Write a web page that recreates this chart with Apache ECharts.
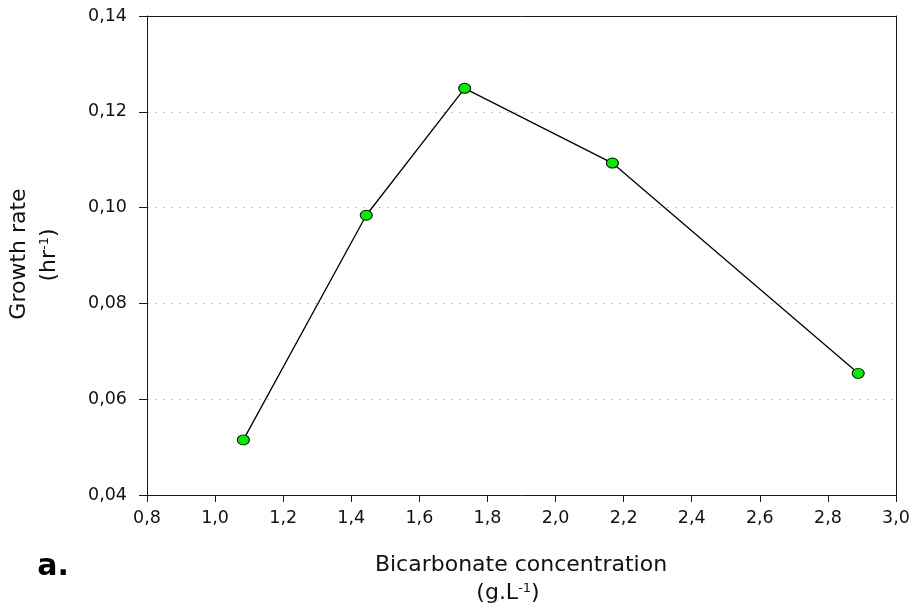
<!DOCTYPE html>
<html>
<head>
<meta charset="utf-8">
<title>Growth rate vs bicarbonate concentration</title>
<script src="https://cdn.jsdelivr.net/npm/echarts@6/dist/echarts.min.js"></script>
<style>
  html, body { margin: 0; padding: 0; background: #ffffff; }
  #chart { width: 913px; height: 610px; }
</style>
</head>
<body>
<div id="chart"></div>
<script>
// Bicarbonate concentration (g/L) and measured growth rate (1/hr)
const bicarbonate = [1.083, 1.444, 1.733, 2.167, 2.889];
const growthRate = [0.0515, 0.0984, 0.1249, 0.1093, 0.0654];

// Axis ranges and tick spacing
const xRange = [0.8, 3.0, 0.2];
const yRange = [0.04, 0.14, 0.02];

const FONT = 'DejaVu Sans';
const INK = '#111';
const commaDecimal = (v, digits) => v.toFixed(digits).replace('.', ',');

// Plain axis used only to close the frame on the top and right sides
const frameAxis = (extra, range) => Object.assign({
  type: 'value',
  min: range[0], max: range[1], interval: range[2],
  axisLine: { show: true, onZero: false, lineStyle: { color: '#1a1a1a', width: 1 } },
  axisTick: { show: false },
  axisLabel: { show: false },
  splitLine: { show: false }
}, extra);

const chart = echarts.init(document.getElementById('chart'), null, { renderer: 'canvas' });

chart.setOption({
  backgroundColor: '#ffffff',
  animation: false,
  grid: { left: 147, right: 17, top: 16, bottom: 115, containLabel: false },
  xAxis: [
    {
      type: 'value',
      min: xRange[0], max: xRange[1], interval: xRange[2],
      axisLine: { show: true, onZero: false, lineStyle: { color: '#1a1a1a', width: 1 } },
      axisTick: { show: true, inside: false, length: 7, lineStyle: { color: '#1a1a1a' } },
      axisLabel: {
        margin: 14, color: INK, fontFamily: FONT, fontSize: 17.5,
        formatter: v => commaDecimal(v, 1)
      },
      splitLine: { show: false }
    },
    frameAxis({ position: 'top' }, xRange)
  ],
  yAxis: [
    {
      type: 'value',
      min: yRange[0], max: yRange[1], interval: yRange[2],
      axisLine: { show: true, onZero: false, lineStyle: { color: '#1a1a1a', width: 1 } },
      axisTick: { show: true, inside: false, length: 8, lineStyle: { color: '#1a1a1a' } },
      axisLabel: {
        margin: 20, color: INK, fontFamily: FONT, fontSize: 17.5,
        formatter: v => commaDecimal(v, 2)
      },
      splitLine: {
        show: true,
        lineStyle: { color: '#c4c4c4', width: 1, type: [2, 6] }
      }
    },
    frameAxis({ position: 'right' }, yRange)
  ],
  series: [{
    type: 'line',
    xAxisIndex: 0,
    yAxisIndex: 0,
    data: bicarbonate.map((x, i) => [x, growthRate[i]]),
    lineStyle: { color: '#000', width: 1.3 },
    symbol: 'circle',
    symbolSize: [12, 10],
    itemStyle: { color: '#00ee00', borderColor: '#000', borderWidth: 1 },
    z: 3
  }],
  graphic: [
    {
      type: 'text', x: 19, y: 254, rotation: Math.PI / 2,
      style: {
        text: 'Growth rate', font: '22px "DejaVu Sans"', fill: INK,
        align: 'center', verticalAlign: 'middle'
      }
    },
    {
      type: 'text', x: 49, y: 255, rotation: Math.PI / 2,
      style: {
        text: '(hr{sup|-1})', font: '22px "DejaVu Sans"', fill: INK,
        align: 'center', verticalAlign: 'middle',
        rich: {
          sup: { fontFamily: FONT, fontSize: 13, fill: INK, verticalAlign: 'top' }
        }
      }
    },
    {
      type: 'text', x: 521, y: 565,
      style: {
        text: 'Bicarbonate concentration', font: '22px "DejaVu Sans"', fill: INK,
        align: 'center', verticalAlign: 'middle'
      }
    },
    {
      type: 'text', x: 508, y: 593,
      style: {
        text: '(g.L{sup|-1})', font: '22px "DejaVu Sans"', fill: INK,
        align: 'center', verticalAlign: 'middle',
        rich: {
          sup: { fontFamily: FONT, fontSize: 13, fill: INK, verticalAlign: 'top' }
        }
      }
    },
    {
      type: 'text', x: 53, y: 567,
      style: {
        text: 'a.', font: 'bold 30px "DejaVu Sans"', fill: '#000',
        align: 'center', verticalAlign: 'middle'
      }
    }
  ]
});
</script>
</body>
</html>
